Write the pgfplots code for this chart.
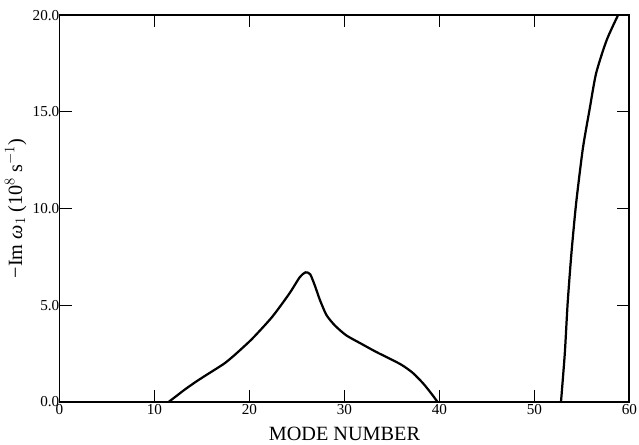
\documentclass[border=0pt]{standalone}
\usepackage{fontspec}
\setmainfont{Liberation Serif}
\usepackage{pgfplots}
\pgfplotsset{compat=1.18}

\begin{document}
\begin{tikzpicture}
\begin{axis}[
    scale only axis,
    width=563pt, height=382pt,
    xmin=0, xmax=60, ymin=0, ymax=20,
    xtick={0,10,...,60},
    ytick={0,5,...,20},
    yticklabel style={/pgf/number format/fixed, /pgf/number format/fixed zerofill,
      /pgf/number format/precision=1},
    /pgf/number format/assume math mode=true,
    tick align=inside,
    major tick length=12pt,
    tick style={line width=0.9pt, black},
    axis line style={line width=1.8pt},
    tick label style={font=\fontsize{15}{17}\selectfont},
    xticklabel style={inner sep=2pt},
    yticklabel style={inner sep=1pt, xshift=1pt},
    label style={font=\fontsize{20}{23}\selectfont},
    xlabel={MODE NUMBER},
    xlabel style={inner sep=4pt, yshift=-6pt},
    ylabel={−Im \textit{ω}$_1$ (10$^{8}$ s$^{-1}$)},
    ylabel style={inner sep=5pt},
    clip=true,
]
% lower hump
\addplot[black, line width=2.2pt, smooth, tension=0.4] coordinates {
  (11.5,0.0)(12.3,0.3)(13.2,0.64)(14.3,1.02)(15.3,1.34)(16.3,1.65)
  (17.4,2.0)(18.5,2.45)(20.3,3.27)(22.4,4.4)(24.2,5.6)(25.3,6.45)
  (25.9,6.7)(26.4,6.6)(26.9,6.0)(27.4,5.3)(28.1,4.5)(29.0,3.95)
  (30.2,3.44)(31.8,3.0)(33.4,2.57)(35.9,1.95)(37.2,1.5)(38.3,0.95)
  (39.2,0.4)(39.8,0.0)
};
% steep branch near mode 53
\addplot[black, line width=2.2pt, smooth, tension=0.4] coordinates {
  (52.8,0.0)(53.2,2.5)(53.5,5.1)(53.9,7.7)(54.4,10.3)(55.1,13.1)
  (55.8,15.1)(56.5,17.0)(57.6,18.7)(58.8,20.0)(59.1,20.3)
};
\end{axis}
% room above the frame, as in the original
\path (current axis.north) ++(0,15pt);
\end{tikzpicture}
\end{document}
